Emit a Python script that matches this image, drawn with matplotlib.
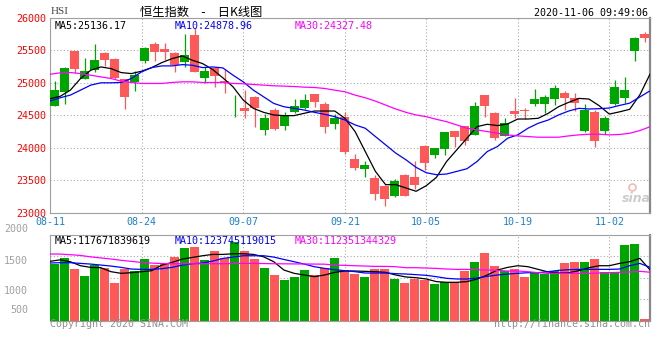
import numpy as np
import matplotlib
matplotlib.use("Agg")
import matplotlib.pyplot as plt

# ---- data ----
date_labels = ["08-11", "08-24", "09-07", "09-21", "10-05", "10-19", "11-02"]
date_pos = [0, 9, 19, 29, 37, 46, 55]

opens = [24650, 24865, 25487, 25069, 25207, 25467, 25365, 25059, 25008, 25339,
         25594, 25518, 25467, 25324, 25737, 25079, 25225, 25025, 24670, 24620,
         24788, 24278, 24579, 24345, 24549, 24610, 24829, 24676, 24370, 24482,
         23837, 23681, 23538, 23415, 23268, 23589, 23549, 24033, 23885, 23987,
         24263, 24339, 24202, 24814, 24533, 24191, 24569, 24572, 24676, 24676,
         24753, 24850, 24773, 24263, 24549, 24263, 24676, 24773, 25492, 25747]
closes = [24890, 25237, 25222, 25181, 25350, 25350, 25079, 24788, 25120, 25543,
          25477, 25477, 25283, 25426, 25171, 25181, 25110, 25012, 24682, 24574,
          24620, 24457, 24293, 24508, 24651, 24737, 24712, 24329, 24457, 23936,
          23692, 23743, 23299, 23220, 23487, 23268, 23430, 23763, 23998, 24242,
          24176, 24115, 24645, 24651, 24151, 24390, 24523, 24566, 24753, 24788,
          24926, 24773, 24696, 24584, 24100, 24457, 24941, 24890, 25696, 25697]
highs = [25030, 25245, 25490, 25385, 25594, 25470, 25385, 25065, 25181, 25550,
         25630, 25614, 25470, 25747, 25850, 25247, 25240, 25222, 24814, 24890,
         24795, 24518, 24610, 24559, 24753, 24829, 24832, 24702, 24518, 24549,
         23911, 23793, 23589, 23430, 23527, 23605, 23793, 24040, 24000, 24245,
         24266, 24342, 24712, 24817, 24559, 24457, 24773, 24610, 24906, 24814,
         24967, 24880, 24839, 24676, 24584, 24498, 25043, 25094, 25700, 25783]
lows = [24645, 24676, 25156, 25060, 25171, 25258, 25054, 24600, 24880, 25309,
        25339, 25360, 25171, 25247, 25171, 24993, 24931, 24850, 24482, 24467,
        24329, 24200, 24273, 24278, 24534, 24605, 24635, 24237, 24288, 23905,
        23666, 23549, 23207, 23115, 23243, 23258, 23368, 23656, 23845, 23895,
        24008, 24049, 24200, 24482, 24125, 24188, 24467, 24446, 24646, 24533,
        24661, 24584, 24574, 24247, 24023, 24217, 24661, 24686, 25339, 25630]

ma5 = [24758, 24795, 24890, 25069, 25196, 25247, 25222, 25160, 25145, 25181,
       25237, 25314, 25375, 25416, 25350, 25299, 25207, 25079, 24941, 24737,
       24610, 24549, 24508, 24498, 24498, 24534, 24569, 24569, 24569, 24457,
       24253, 23946, 23640, 23436, 23436, 23385, 23334, 23420, 23549, 23793,
       23972, 24151, 24329, 24365, 24345, 24370, 24446, 24446, 24457, 24534,
       24635, 24702, 24763, 24753, 24651, 24522, 24556, 24595, 24817, 25136]
ma10 = [24722, 24773, 24814, 24890, 24967, 25003, 25003, 25008, 25069, 25171,
        25237, 25263, 25263, 25283, 25273, 25237, 25247, 25232, 25120, 25018,
        24890, 24788, 24686, 24635, 24610, 24584, 24549, 24518, 24482, 24431,
        24355, 24304, 24176, 24049, 23921, 23819, 23702, 23620, 23589, 23600,
        23640, 23681, 23793, 23946, 24023, 24151, 24202, 24304, 24380, 24431,
        24508, 24569, 24610, 24600, 24605, 24615, 24655, 24690, 24785, 24879]
ma30 = [25135, 25156, 25161, 25145, 25120, 25094, 25069, 25028, 25008, 24993,
        24993, 24993, 25008, 25018, 25018, 25008, 25008, 25008, 24993, 24988,
        24977, 24967, 24957, 24952, 24946, 24936, 24931, 24916, 24890, 24865,
        24814, 24773, 24722, 24661, 24600, 24549, 24508, 24482, 24441, 24405,
        24355, 24304, 24278, 24253, 24227, 24202, 24186, 24176, 24166, 24166,
        24166, 24186, 24202, 24212, 24212, 24202, 24208, 24227, 24268, 24327]

# volume, in 1e8
volume = [1320, 1444, 1205, 1042, 1289, 1228, 880, 1205, 1158, 1436,
          1289, 1305, 1482, 1691, 1714, 1413, 1621, 1444, 1830, 1621,
          1436, 1228, 1058, 950, 1012, 1181, 1058, 1212, 1459, 1174,
          1081, 1019, 1205, 1205, 965, 873, 965, 942, 850, 888,
          888, 1150, 1359, 1567, 1266, 1150, 1205, 1019, 1097, 1081,
          1150, 1336, 1359, 1359, 1428, 1135, 1135, 1752, 1776, 45]
vma5 = [1377, 1410, 1367, 1274, 1235, 1228, 1135, 1097, 1112, 1135,
        1158, 1289, 1351, 1428, 1467, 1506, 1537, 1537, 1552, 1552,
        1537, 1482, 1367, 1174, 1097, 1058, 1019, 1058, 1120, 1151,
        1151, 1143, 1135, 1120, 1058, 1012, 996, 965, 904, 888,
        888, 904, 965, 1058, 1174, 1235, 1274, 1251, 1189, 1128,
        1104, 1112, 1158, 1228, 1274, 1274, 1328, 1367, 1445, 1177]
vma10 = [1338, 1344, 1344, 1328, 1312, 1289, 1266, 1235, 1197, 1189,
         1189, 1205, 1235, 1289, 1320, 1336, 1382, 1444, 1475, 1506,
         1506, 1506, 1475, 1420, 1367, 1312, 1251, 1212, 1181, 1158,
         1135, 1104, 1104, 1104, 1089, 1081, 1066, 1050, 1019, 981,
         965, 965, 988, 1027, 1058, 1081, 1097, 1112, 1112, 1135,
         1166, 1181, 1189, 1189, 1189, 1189, 1197, 1274, 1328, 1237]
vma30 = [1546, 1545, 1530, 1513, 1480, 1455, 1430, 1400, 1375, 1350,
         1335, 1325, 1320, 1320, 1320, 1320, 1320, 1320, 1325, 1328,
         1328, 1325, 1320, 1318, 1316, 1315, 1312, 1310, 1289, 1282,
         1274, 1266, 1259, 1259, 1251, 1228, 1228, 1220, 1212, 1197,
         1189, 1189, 1181, 1174, 1166, 1151, 1151, 1135, 1112, 1097,
         1097, 1097, 1097, 1097, 1104, 1112, 1120, 1128, 1143, 1123]

price_ticks = [23000, 23500, 24000, 24500, 25000, 25500, 26000]
vol_labels = ["2000", "1500", "1000", "500"]

GREEN = "#00a600"
RED = "#ff5858"
GRID = "#aaaaaa"
MONO = "DejaVu Sans Mono"

n = len(closes)
x = np.arange(n)
o = np.array(opens)
c = np.array(closes)
cols = [GREEN if cc >= oo else RED for oo, cc in zip(o, c)]
# the MA lines run edge to edge of the panel
line_x = np.linspace(-0.45, n - 0.45, n)
grid_x = line_x[date_pos]

fig = plt.figure(figsize=(6.6, 3.6), dpi=100)
ax = fig.add_axes([50 / 660, 147 / 360, 600 / 660, 195 / 360])
axv = fig.add_axes([50 / 660, 39.5 / 360, 600 / 660, 86 / 360])

for a in (ax, axv):
    a.set_xlim(-0.45, n - 0.45)
    for s in ("left", "top", "bottom"):
        a.spines[s].set_color("#a0a0a0")
        a.spines[s].set_linewidth(0.8)
    a.spines["right"].set_color("#888888")
    a.spines["right"].set_linewidth(1.6)
    a.set_xticks(grid_x)
    a.grid(True, color=GRID, linestyle=(0, (1, 2)), linewidth=0.8)
    a.set_axisbelow(True)
    a.tick_params(length=0)

# ---- candles ----
ax.vlines(x, lows, highs, colors=cols, linewidth=0.9, zorder=2)
ax.bar(x, np.maximum(np.abs(c - o), 12), bottom=np.minimum(o, c), width=0.9,
       color=cols, linewidth=0, zorder=3)
ax.plot(line_x, ma5, color="black", lw=0.9, zorder=4)
ax.plot(line_x, ma10, color="#0000ff", lw=0.9, zorder=4)
ax.plot(line_x, ma30, color="#ff00ff", lw=0.9, zorder=4)

ax.set_ylim(23000, 26000)
ax.set_yticks(price_ticks)
ax.set_yticklabels([str(t) for t in price_ticks], color="#ff0000",
                   family=MONO, fontsize=7.2)
ax.set_xticklabels(date_labels, color="#1a80d0", family=MONO, fontsize=7.2)
ax.tick_params(axis="y", pad=3)
ax.tick_params(axis="x", pad=3)

ax.text(0.007, 0.985, "MA5:25136.17", transform=ax.transAxes, va="top",
        ha="left", color="black", family=MONO, fontsize=7.2, zorder=6)
ax.text(0.207, 0.985, "MA10:24878.96", transform=ax.transAxes, va="top",
        ha="left", color="#0000ff", family=MONO, fontsize=7.2, zorder=6)
ax.text(0.408, 0.985, "MA30:24327.48", transform=ax.transAxes, va="top",
        ha="left", color="#ff00ff", family=MONO, fontsize=7.2, zorder=6)

# ---- volume ----
axv.bar(x, volume, width=0.9, color=cols, linewidth=0, zorder=3)
axv.plot(line_x, vma5, color="black", lw=0.9, zorder=4)
axv.plot(line_x, vma10, color="#0000ff", lw=0.9, zorder=4)
axv.plot(line_x, vma30, color="#ff00ff", lw=0.9, zorder=4)
axv.set_ylim(0, 2000)
axv.set_yticks([500, 1000, 1500])
axv.set_yticklabels([])
axv.set_xticklabels([])
for lab, yf in zip(vol_labels, [1.06, 0.692, 0.343, 0.122]):
    axv.text(-0.0367, yf, lab, transform=axv.transAxes, ha="right",
             va="center", color="#a0a0a0", family=MONO, fontsize=7.2)

axv.text(0.007, 0.985, "MA5:117671839619", transform=axv.transAxes, va="top",
         ha="left", color="black", family=MONO, fontsize=7.2, zorder=6)
axv.text(0.207, 0.985, "MA10:123745119015", transform=axv.transAxes, va="top",
         ha="left", color="#0000ff", family=MONO, fontsize=7.2, zorder=6)
axv.text(0.408, 0.985, "MA30:112351344329", transform=axv.transAxes, va="top",
         ha="left", color="#ff00ff", family=MONO, fontsize=7.2, zorder=6)

# ---- header / footer ----
fig.text(51 / 660, 1 - 12 / 360, "HSI", ha="left", va="center",
         family="Liberation Serif", fontsize=8, color="#444444")
fig.text(201 / 660, 1 - 12 / 360, "恒生指数\u3000-\u3000日K线图", ha="center",
         va="center", family=["Noto Sans CJK SC", "DejaVu Sans"], fontsize=8.8,
         color="black")
fig.text(648 / 660, 1 - 12.5 / 360, "2020-11-06 09:49:06", ha="right",
         va="center", family=MONO, fontsize=7.2, color="black")
fig.text(50 / 660, 1 - 324 / 360, "Copyright 2020 SINA.COM", ha="left",
         va="center", family=MONO, fontsize=7.2, color="#909090")
fig.text(650 / 660, 1 - 324 / 360, "http://finance.sina.com.cn", ha="right",
         va="center", family=MONO, fontsize=7.2, color="#909090")

# sina watermark
fig.text(636 / 660, 1 - 199 / 360, "sina", ha="center", va="center",
         fontsize=9, style="italic", weight="bold", color="#cccccc")
fig.lines.append(plt.Line2D([632 / 660], [1 - 187 / 360], marker="o",
                            markersize=5, markerfacecolor="none",
                            markeredgecolor="#f4b8b8", markeredgewidth=1.2,
                            transform=fig.transFigure))

fig.savefig("out.png", dpi=100)
